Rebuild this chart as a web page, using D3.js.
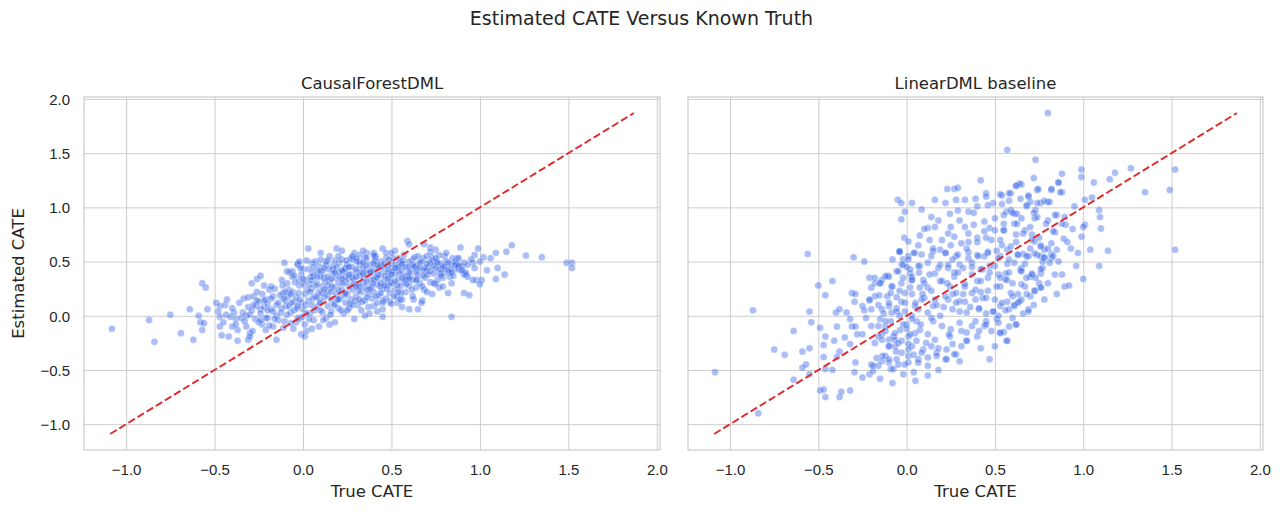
<!DOCTYPE html>
<html>
<head>
<meta charset="utf-8">
<script src="https://cdn.jsdelivr.net/npm/d3@7"></script>
<style>
  html, body { margin: 0; padding: 0; background: #fff; }
  svg { display: block; font-family: "DejaVu Sans", sans-serif; }
  .tick-label { fill: #262626; font-size: 15px; }
  .axis-label { fill: #262626; font-size: 16.5px; }
  .panel-title { fill: #262626; font-size: 16.5px; }
</style>
</head>
<body>
<div id="chart"></div>
<script>
'use strict';

// figure texts
const figureTitle = 'Estimated CATE Versus Known Truth';
const panelTitles = ['CausalForestDML', 'LinearDML baseline'];
const xLabel = 'True CATE';
const yLabel = 'Estimated CATE';

// shared ticks and the y = x reference line
const xTicks = [-1.0, -0.5, 0.0, 0.5, 1.0, 1.5, 2.0];
const yTicks = [-1.0, -0.5, 0.0, 0.5, 1.0, 1.5, 2.0];
const identityLine = [-1.09, 1.87];

// [true CATE, estimated CATE]
const forestPoints = [
  [-1.08,-0.12],[-0.87,-0.04],[-0.84,-0.24],[-0.75,0.01],[-0.69,-0.16],[-0.64,0.06],[-0.62,-0.22],
  [-0.57,0.30],[-0.55,0.26],[-0.59,0.00],[-0.58,-0.06],[-0.57,-0.13],[-0.56,-0.07],[-0.54,0.06],
  [-0.49,0.12],[-0.47,0.09],[-0.44,0.10],[-0.47,-0.01],[-0.47,-0.10],[-0.46,-0.18],[-0.42,-0.19],
  [-0.435,0.01],[-0.41,-0.01],[-0.39,0.03],[-0.38,-0.03],[-0.40,-0.10],[-0.37,-0.13],[-0.37,-0.23],
  [-0.35,-0.02],[-0.32,0.00],[-0.30,0.01],[-0.32,-0.10],[-0.30,-0.16],[-0.31,-0.22],[-0.285,-0.14],
  [-0.335,0.16],[-0.31,0.17],[-0.29,0.30],[-0.26,0.34],[-0.24,0.37],[-0.22,0.28],[-0.265,0.09],
  [-0.24,0.06],[-0.25,0.13],[-0.21,0.15],[-0.19,0.24],[-0.17,0.18],[-0.18,0.06],[-0.15,0.00],
  [-0.20,-0.02],[-0.23,-0.08],[-0.17,-0.10],[-0.15,-0.22],[-0.21,-0.13],[-0.115,0.21],[-0.105,0.49],
  [-0.08,0.24],[-0.095,0.09],[-0.07,0.03],[-0.05,0.13],[-0.04,-0.06],[-0.01,-0.17],[0.01,-0.19],
  [-0.02,-0.03],[0.02,-0.14],[-0.03,0.47],[-0.06,0.36],[-0.02,0.33],
  [0.03,0.62],[0.10,0.58],[0.19,0.62],[0.22,0.60],[0.05,0.49],[0.09,0.46],[0.13,0.50],[0.17,0.46],
  [0.205,0.49],[0.24,0.43],[0.28,0.52],[0.32,0.47],[0.36,0.58],[0.29,0.58],[0.32,0.56],[0.34,0.60],
  [0.40,0.58],[0.45,0.62],[0.52,0.60],[0.59,0.69],[0.60,0.66],[0.685,0.66],[0.72,0.63],[0.75,0.61],
  [0.89,0.63],[0.99,0.62],
  [-0.03,0.48],[0.02,0.51],[0.14,0.51],[0.27,0.53],[0.35,0.54],[0.41,0.53],[0.47,0.53],[0.54,0.53],
  [0.62,0.52],[0.68,0.53],[0.73,0.54],[0.80,0.55],[0.845,0.53],[0.91,0.49],[0.97,0.56],
  [-0.06,0.41],[0.00,0.43],[0.055,0.40],[0.11,0.41],[0.17,0.43],[0.24,0.44],[0.30,0.41],[0.36,0.43],
  [0.43,0.44],[0.49,0.42],[0.56,0.46],[0.64,0.44],[0.695,0.41],[0.77,0.43],[0.83,0.40],[0.88,0.44],
  [0.92,0.38],[0.98,0.33],
  [1.02,0.54],[1.06,0.53],[1.09,0.58],[1.15,0.59],[1.18,0.65],[1.26,0.555],[1.35,0.54],[1.49,0.49],
  [1.52,0.49],[1.52,0.44],[1.10,0.44],[1.09,0.34],[1.14,0.38],[1.04,0.42],[1.01,0.33],[1.00,0.29],
  [0.96,0.33],[0.93,0.36],[0.91,0.38],[0.89,0.42],[0.84,0.30],[0.82,0.21],[0.77,0.26],[0.91,0.21],
  [0.94,0.19],[0.84,-0.01],[1.00,0.50],[0.96,0.49],[0.87,0.53],[0.86,0.50],[0.81,0.58],[0.72,0.59],
  [0.45,-0.01],[0.60,0.06],[0.65,0.06],[0.625,0.15],[0.675,0.14],[0.73,0.20],[0.685,0.24],[0.75,0.29],
  [0.79,0.35],[0.83,0.43],[0.78,0.43],[0.56,0.15],[0.535,0.12],[0.42,0.04],[0.40,0.09],[0.49,0.13],
  [-0.48,0.04],[-0.45,-0.06],[-0.43,0.15],[-0.40,0.07],[-0.38,-0.08],[-0.36,0.12],[-0.34,0.03],
  [-0.33,-0.05],[-0.31,0.08],[-0.30,-0.19],[-0.29,0.05],[-0.28,0.18],[-0.27,-0.03],
  [-0.26,0.14],[-0.25,-0.06],[-0.24,0.02],[-0.23,0.20],[-0.22,0.08],[-0.21,-0.02],[-0.20,0.11],
  [-0.19,-0.09],[-0.18,0.16],[-0.17,0.04],[-0.16,0.25],[-0.15,0.10],[-0.14,-0.04],[-0.13,0.19],
  [-0.12,0.07],[-0.11,-0.11],[-0.10,0.14],[-0.09,0.30],[-0.09,0.01],[-0.08,0.09],[-0.07,-0.07],
  [-0.06,0.22],[-0.05,0.05],[-0.04,0.17],[-0.03,-0.02],[-0.02,0.28],[-0.01,0.12],[-0.01,0.38],
  [0.00,0.06],[0.01,0.20],[0.01,-0.08],[0.02,0.33],[0.03,0.14],[0.03,0.43],[0.04,0.02],[0.05,0.25],
  [0.05,0.10],[0.06,0.37],[0.06,-0.04],[0.07,0.18],[0.07,0.50],[0.08,0.08],[0.08,0.30],[0.09,0.22],
  [0.09,-0.10],[0.10,0.41],[0.10,0.13],[0.11,0.03],[0.11,0.27],[0.12,0.35],[0.12,0.17],[0.13,0.47],
  [0.13,-0.02],[0.14,0.09],[0.14,0.23],[0.15,0.32],[0.15,0.55],[0.16,0.15],[0.16,0.04],[0.17,0.39],
  [0.17,0.26],[0.18,0.11],[0.18,-0.06],[0.19,0.20],[0.19,0.45],[0.20,0.30],[0.20,0.07],
  [0.21,0.36],[0.21,0.16],[0.22,0.24],[0.22,0.52],[0.23,0.02],[0.23,0.41],[0.24,0.12],[0.24,0.31],
  [0.25,0.20],[0.25,0.47],[0.26,0.27],[0.26,0.07],[0.27,0.38],[0.27,0.15],[0.28,0.55],[0.28,0.24],
  [0.29,-0.03],[0.29,0.33],[0.30,0.43],[0.30,0.18],[0.31,0.10],[0.31,0.29],[0.32,0.50],[0.32,0.37],
  [0.33,0.22],[0.33,0.05],[0.34,0.44],[0.34,0.31],[0.35,0.14],[0.35,0.26],[0.36,0.53],[0.36,0.39],
  [0.37,0.20],[0.37,0.08],[0.38,0.34],[0.38,0.47],[0.39,0.27],[0.39,0.16],[0.40,0.42],
  [0.40,0.22],[0.41,0.36],[0.41,0.55],[0.42,0.29],[0.42,0.12],[0.43,0.45],[0.43,0.19],[0.44,0.38],
  [0.44,0.50],[0.45,0.25],[0.45,0.06],[0.46,0.33],[0.46,0.43],[0.47,0.16],[0.47,0.58],[0.48,0.28],
  [0.48,0.40],[0.49,0.21],[0.49,0.35],[0.50,0.48],[0.50,0.11],[0.51,0.30],[0.51,0.53],[0.52,0.39],
  [0.52,0.24],[0.53,0.44],[0.53,0.18],[0.54,0.34],[0.55,0.50],[0.55,0.27],[0.56,0.41],[0.56,0.08],
  [0.57,0.31],[0.57,0.56],[0.58,0.22],[0.58,0.45],[0.59,0.37],[0.60,0.28],
  [0.60,0.50],[0.61,0.42],[0.62,0.33],[0.62,0.18],[0.63,0.54],[0.64,0.26],[0.64,0.46],[0.65,0.38],
  [0.66,0.30],[0.67,0.50],[0.67,0.12],[0.68,0.42],[0.69,0.35],[0.70,0.55],[0.70,0.22],[0.71,0.45],
  [0.72,0.31],[0.73,0.51],[0.74,0.39],[0.75,0.44],[0.76,0.33],[0.77,0.56],[0.78,0.48],[0.79,0.27],
  [0.80,0.40],[0.81,0.50],[0.83,0.36],[0.84,0.47],[0.86,0.43],[0.88,0.53],[0.90,0.46],[0.92,0.40],
  [0.95,0.52],[0.97,0.44],
  [-0.125,0.03],[-0.115,0.28],[-0.105,-0.05],[-0.085,0.18],[-0.075,0.40],[-0.065,0.12],[-0.055,-0.12],
  [-0.045,0.31],[-0.035,0.07],[-0.025,0.21],[-0.015,0.44],[-0.005,-0.01],
  [0.005,0.29],[0.015,0.10],[0.025,0.24],[0.035,-0.03],[0.045,0.36],[0.055,0.16],[0.065,0.05],
  [0.075,0.28],[0.085,0.41],[0.095,0.12],[0.105,0.21],[0.115,-0.04],[0.125,0.32],[0.135,0.19],
  [0.145,0.43],[0.155,0.01],[0.165,0.27],[0.175,0.10],[0.185,0.35],[0.195,0.15],
  [0.205,0.40],[0.215,0.05],[0.225,0.30],[0.235,0.19],[0.245,0.51],[0.255,0.34],[0.265,0.11],
  [0.275,0.45],[0.285,0.29],[0.295,0.14],[0.305,0.50],[0.315,0.23],[0.325,0.40],[0.335,0.13],
  [0.345,0.35],[0.355,0.47],[0.365,0.24],[0.375,0.02],[0.385,0.41],[0.395,0.30],
  [0.405,0.51],[0.415,0.18],[0.425,0.38],[0.435,0.27],[0.445,0.46],[0.455,0.14],[0.465,0.37],
  [0.475,0.25],[0.485,0.52],[0.495,0.30],[0.505,0.41],[0.515,0.18],[0.525,0.47],[0.535,0.28],
  [0.545,0.40],[0.555,0.21],[0.565,0.51],[0.575,0.36],[0.585,0.29],[0.595,0.45],
  [0.605,0.36],[0.615,0.24],[0.63,0.45],[0.645,0.34],[0.66,0.49],[0.675,0.27],[0.69,0.44],
  [0.705,0.38],[0.72,0.49],[0.74,0.30],[0.755,0.50],[0.775,0.39],[0.79,0.46],[0.82,0.42],
  [0.85,0.37],[0.87,0.48],
  [-0.10,0.22],[-0.02,0.15],[0.04,0.29],[0.08,0.17],[0.12,0.24],[0.16,0.34],[0.20,0.24],[0.24,0.36],
  [0.28,0.35],[0.32,0.27],[0.36,0.31],[0.40,0.33],[0.44,0.30],[0.48,0.34],[0.52,0.32],[0.56,0.35],
  [0.60,0.40],[0.64,0.40],[0.05,0.33],[0.14,0.28],[0.22,0.42],[0.30,0.36],[0.38,0.40],[0.46,0.48],
  [0.54,0.45],[0.10,0.36],[0.18,0.40],[0.26,0.45],[0.34,0.49],[0.42,0.47],
  [-0.28,0.10],[-0.26,0.22],[-0.24,-0.04],[-0.22,0.14],[-0.20,0.05],[-0.18,0.27],[-0.16,-0.03],
  [-0.14,0.12],[-0.12,0.33],[-0.11,0.16],[-0.09,0.41],[-0.07,0.20],[-0.05,0.37],[-0.03,0.09],
  [-0.02,0.50],[0.00,0.34],[0.02,0.02],[0.04,0.22],[0.06,0.45],[0.08,0.36],[0.10,0.05],[0.12,0.44],
  [0.14,0.36],[0.16,0.22],[0.18,0.51],[0.20,0.15],[0.22,0.34],[0.24,0.21],[0.26,0.38],[0.28,0.10],
  [0.30,0.27],[0.32,0.15],[0.34,0.39],[0.36,0.17],[0.38,0.25],[0.40,0.48],[0.42,0.35],[0.44,0.21],
  [0.46,0.28],[0.48,0.46],[0.50,0.38],[0.52,0.44],[0.54,0.22],[0.56,0.48],[0.58,0.33],[0.60,0.34],
  [0.62,0.47],[0.64,0.33],[0.66,0.44],[0.68,0.37],[0.70,0.48],[0.72,0.41],[0.74,0.46],[0.76,0.49],
  [0.78,0.37],[0.80,0.45],[0.82,0.49],[0.84,0.40],[0.86,0.47],[0.88,0.46],[0.90,0.42],[0.93,0.47],
  [0.25,0.05],[0.35,0.00],[0.15,-0.08],[0.05,-0.12],[0.45,0.12],[0.55,0.15],[0.30,0.53],[0.20,0.55],
  [0.10,0.52],[0.40,0.56],[0.50,0.58],[0.65,0.55],[0.75,0.53]
];

// [true CATE, estimated CATE]
const linearPoints = [
  [-1.085,-0.52],[-0.84,-0.90],[-0.87,0.05],[-0.75,-0.31],[-0.69,-0.36],[-0.64,-0.14],[-0.59,-0.33],
  [-0.55,-0.30],[-0.59,-0.48],[-0.57,-0.45],[-0.64,-0.59],[-0.55,0.04],[-0.54,-0.06],[-0.56,0.57],
  [-0.55,-0.54],[-0.49,-0.69],[-0.47,-0.68],[-0.46,-0.75],[-0.49,-0.11],[-0.50,0.28],[-0.46,0.19],
  [-0.42,0.32],[-0.47,-0.27],[-0.46,-0.19],[-0.47,-0.38],[-0.46,-0.49],[-0.42,-0.50],[-0.41,-0.23],
  [-0.395,-0.10],[-0.40,0.03],[-0.38,0.06],[-0.34,0.03],[-0.32,-0.03],[-0.31,-0.10],[-0.35,-0.20],
  [-0.32,-0.26],[-0.38,-0.33],[-0.395,-0.38],[-0.37,-0.70],[-0.38,-0.75],[-0.32,-0.69],
  [-0.30,0.54],[-0.24,0.50],[-0.31,0.21],[-0.29,0.20],[-0.295,0.13],[-0.25,0.09],[-0.24,0.05],
  [-0.21,0.14],[-0.20,0.06],[-0.23,-0.02],[-0.25,-0.17],[-0.28,-0.17],[-0.29,-0.10],
  [-0.29,-0.43],[-0.295,-0.52],[-0.25,-0.57],[-0.21,-0.54],[-0.20,-0.45],[-0.19,-0.51],[-0.16,-0.46],
  [-0.17,-0.39],[-0.12,-0.37],[-0.10,-0.43],[-0.09,-0.49],[-0.057,-0.40],[-0.019,-0.54],[0.01,-0.43],
  [-0.21,0.35],[-0.18,0.30],[-0.15,0.30],[-0.20,0.26],[-0.18,0.18],[-0.155,0.19],[-0.08,0.27],
  [-0.107,0.37],[-0.057,0.41],[-0.028,0.47],[-0.04,0.59],[-0.02,0.52],[0.01,0.55],[0.02,0.39],
  [0.03,0.33],[-0.01,0.21],[-0.03,0.13],
  [-0.15,-0.03],[-0.12,-0.10],[-0.09,-0.05],[-0.141,-0.17],[-0.10,-0.22],[-0.075,-0.19],[-0.066,-0.28],
  [-0.028,-0.23],[-0.037,-0.13],[0.00,-0.08],[0.01,-0.19],[0.03,-0.28],[0.047,-0.16],[0.057,-0.05],
  [0.03,0.00],[-0.085,0.03],[-0.10,0.09],[-0.057,0.07],
  [0.23,1.17],[0.27,1.17],[0.29,1.18],[0.42,1.25],
  [-0.05,1.07],[-0.03,1.04],[0.03,1.04],[0.16,1.07],[0.22,1.04],[0.28,1.07],[0.33,1.07],[0.39,1.08],
  [0.45,1.13],[0.45,1.10],[0.49,1.04],[0.54,1.11],[0.59,1.13],[0.62,1.20],[0.65,1.21],[0.69,1.11],
  [0.74,1.16],[0.76,1.04],[0.81,1.05],[0.86,1.23],[0.88,1.14],[0.82,1.16],
  [-0.01,0.96],[-0.03,0.89],[0.085,0.98],[0.14,0.91],[0.18,0.88],[0.245,0.94],[0.29,0.97],[0.35,0.96],
  [0.40,1.01],[0.46,1.02],[0.565,0.96],[0.61,0.94],[0.68,1.01],[0.725,0.90],[0.85,0.93],[0.895,0.91],
  [0.61,0.85],[0.44,0.87],[0.38,0.84],[0.33,0.82],[0.25,0.82],[0.16,0.82],[0.12,0.81],
  [-0.013,0.72],[0.01,0.685],[0.066,0.65],[0.075,0.74],[0.13,0.70],[0.19,0.61],[0.235,0.76],[0.27,0.73],
  [0.31,0.67],[0.35,0.76],[0.40,0.72],[0.44,0.78],[0.47,0.81],[0.50,0.79],[0.55,0.79],[0.54,0.65],
  [0.57,0.61],[0.62,0.75],[0.67,0.79],[0.71,0.75],[0.725,0.685],[0.76,0.65],[0.78,0.61],[0.82,0.53],
  [0.85,0.61],[0.76,0.55],[0.69,0.55],[0.63,0.56],[0.53,0.55],[0.46,0.59],[0.40,0.56],[0.35,0.53],
  [0.28,0.55],[0.22,0.58],[0.14,0.55],[0.047,0.58],[-0.04,0.59],[0.01,0.52],
  [-0.18,0.35],[-0.14,0.33],[-0.10,0.36],[-0.047,0.41],[-0.03,0.30],[0.03,0.36],[0.075,0.46],
  [0.094,0.33],[0.12,0.26],[0.16,0.39],[0.19,0.32],[0.235,0.44],[0.27,0.36],[0.30,0.47],[0.33,0.27],
  [0.37,0.38],[0.40,0.32],[0.43,0.43],[0.46,0.35],[0.50,0.46],[0.53,0.27],[0.56,0.39],[0.57,0.33],
  [0.61,0.49],[0.65,0.44],[0.67,0.27],[0.71,0.39],[0.725,0.23],[0.76,0.26],[0.84,0.38],[0.895,0.27],
  [0.77,0.44],[0.81,0.49],
  [-0.21,0.15],[-0.16,0.10],[-0.11,0.18],[-0.056,0.04],[-0.01,0.12],[0.03,0.20],[0.066,0.06],
  [0.10,0.165],[0.15,0.09],[0.19,0.00],[0.235,0.15],[0.26,0.20],[0.30,0.04],[0.33,0.13],[0.37,0.21],
  [0.41,0.06],[0.43,0.165],[0.49,0.04],[0.53,0.09],[0.57,0.13],[0.61,0.09],[0.65,0.15],[0.69,0.06],
  [0.51,-0.03],[0.62,-0.08],[0.565,-0.23],[0.53,-0.16],
  [-0.20,-0.095],[-0.16,-0.19],[-0.12,-0.14],[-0.10,-0.28],[-0.066,-0.22],[-0.028,-0.34],[0.01,-0.26],
  [0.02,-0.17],[0.066,-0.40],[0.094,-0.31],[0.12,-0.46],[0.16,-0.22],[0.17,-0.34],[0.22,-0.40],
  [0.245,-0.19],[0.26,-0.26],[0.28,-0.355],[0.31,-0.14],[0.34,-0.23],[0.37,-0.095],[0.40,-0.19],
  [0.44,-0.095],[0.48,-0.14],[-0.19,-0.46],[-0.14,-0.42],[-0.075,-0.49],[-0.01,-0.45],[0.04,-0.52],
  [-0.15,-0.58],[-0.08,-0.62],[0.05,-0.60],[0.12,-0.55],[0.18,-0.50],[0.30,-0.42],[0.42,-0.30],
  [0.50,-0.28],[0.47,-0.40],[0.55,-0.15],
  [0.45,-0.05],[0.52,0.00],[0.60,-0.02],[0.66,0.02],[0.72,0.10],[0.78,0.15],[0.85,0.20],[0.58,-0.10],
  [0.63,0.20],[0.70,0.18],[0.75,0.30],[0.80,0.30],
  [0.80,1.87],[0.57,1.53],[0.73,1.44],[0.88,1.31],[0.99,1.35],[0.99,1.28],[1.06,1.23],[1.15,1.26],
  [1.18,1.32],[1.27,1.36],[1.52,1.35],[1.35,1.14],[1.49,1.16],
  [0.72,1.27],[0.86,1.23],[0.82,1.17],[0.87,1.14],[0.745,1.17],[0.64,1.22],[0.62,1.20],[0.53,1.12],
  [0.58,1.13],[0.645,1.08],[0.69,1.10],[0.58,1.06],[0.54,1.03],
  [0.80,1.05],[0.78,1.06],[0.74,1.04],[0.73,0.975],[0.68,1.02],[0.95,1.01],[1.01,1.07],[1.05,1.09],
  [1.09,0.975],[1.095,0.91],[1.01,0.84],[1.00,0.82],[1.10,0.805],[0.99,0.73],[0.89,0.71],[0.93,0.62],
  [1.04,0.61],[1.14,0.60],[1.09,0.46],[0.96,0.46],[0.88,0.38],[0.92,0.28],[1.00,0.34],[1.52,0.61],
  [0.84,0.93],[0.90,0.84],[0.84,0.77],[0.80,0.88],[0.74,0.91],[0.625,0.94],[0.59,0.975],[0.55,0.93],
  [0.70,0.82],[0.66,0.76],[0.71,0.70],[0.76,0.64],[0.82,0.57],[0.82,0.67],[0.78,0.54],[0.74,0.56],
  [0.625,0.85],[0.55,0.79],[0.53,0.70],[0.59,0.64],[0.66,0.57],[0.57,0.48],[0.645,0.42],[0.70,0.36],
  [0.76,0.39],
  [-0.04,0.595],[0.04,0.58],[0.085,0.565],[0.15,0.595],[0.22,0.58],[0.29,0.565],[0.35,0.585],
  [0.405,0.55],[0.46,0.58],[0.52,0.53],[0.63,0.565],[0.68,0.55],[0.725,0.575],[0.78,0.535],[0.83,0.55],
  [-0.12,0.365],[-0.02,0.47],[0.02,0.43],[0.066,0.46],[0.12,0.49],[0.18,0.44],[0.235,0.47],[0.27,0.40],
  [0.32,0.44],[0.37,0.49],[0.42,0.43],[0.47,0.46],[0.52,0.38],[0.58,0.40],[0.65,0.41],[0.71,0.38],
  [0.76,0.43],
  [-0.15,0.30],[-0.085,0.27],[-0.04,0.23],[0.03,0.33],[0.075,0.26],[0.10,0.30],[0.14,0.23],[0.20,0.32],
  [0.245,0.27],[0.28,0.21],[0.33,0.29],[0.39,0.24],[0.42,0.32],[0.46,0.23],[0.51,0.27],[0.56,0.335],
  [0.59,0.21],[0.65,0.29],[0.725,0.23],[0.76,0.26],[0.678,0.35],
  [-0.14,0.06],[-0.10,0.12],[-0.056,0.17],[-0.01,0.04],[0.047,0.09],[0.085,0.15],[0.12,0.03],
  [0.17,0.10],[0.22,0.18],[0.26,0.06],[0.30,0.135],[0.34,0.03],[0.39,0.15],[0.41,0.07],[0.45,0.165],
  [0.49,0.04],[0.54,0.12],[0.58,0.06],[0.60,0.18],[0.64,0.135],[0.69,0.04],[0.61,0.10],
  [-0.16,-0.095],[-0.12,-0.05],[-0.066,-0.16],[-0.02,-0.08],[0.03,-0.03],[0.075,-0.13],[0.12,-0.17],
  [0.15,-0.05],[0.20,-0.095],[0.25,-0.125],[0.30,-0.065],[0.34,-0.155],[0.41,-0.14],[0.45,-0.08],
  [0.52,-0.065],[0.53,-0.155],[0.62,-0.08],
  [-0.14,-0.22],[-0.10,-0.28],[-0.047,-0.25],[0.01,-0.31],[0.056,-0.23],[0.085,-0.34],[0.14,-0.28],
  [0.17,-0.37],[0.226,-0.31],[0.27,-0.355],[0.226,-0.40],[0.34,-0.23],[0.57,-0.23],[-0.10,-0.40],
  [-0.047,-0.45],[0.01,-0.37],[0.066,-0.43],[0.12,-0.385],[-0.137,-0.37],
  [-0.18,-0.25],[-0.13,0.02],[-0.09,0.21],[-0.06,-0.33],[-0.04,0.00],[-0.02,0.35],[0.00,-0.12],
  [0.02,0.26],[0.04,-0.36],[0.05,0.12],[0.07,0.40],[0.08,-0.08],[0.09,0.20],[0.11,-0.25],[0.13,0.38],
  [0.14,-0.02],[0.16,0.15],[0.18,-0.30],[0.19,0.47],[0.21,0.08],[0.23,0.30],[0.24,-0.17],[0.26,0.52],
  [0.28,0.12],[0.29,0.40],[0.31,-0.28],[0.32,0.20],[0.34,0.62],[0.36,0.08],[0.37,0.45],[0.39,-0.05],
  [0.40,0.68],[0.42,0.22],[0.44,0.55],[0.45,0.02],[0.47,0.40],[0.48,0.70],[0.50,0.15],[0.51,0.60],
  [0.53,0.35],[0.55,0.85],[0.56,0.05],[0.58,0.52],[0.60,0.30],[0.62,0.68],[0.63,0.12],[0.65,0.90],
  [0.67,0.48],[0.68,0.20],[0.70,0.62],[0.72,0.95],[0.73,0.35],[0.75,0.72],[0.77,0.50],[0.79,0.85],
  [0.80,0.62],[0.83,0.78],[0.86,0.50],[0.88,0.85],[0.91,0.68],[0.94,0.80],[0.97,0.58],[0.20,0.70],
  [0.30,0.88],[0.10,0.80],[0.00,0.45],[-0.08,0.52],[0.15,0.62],[0.25,0.65],[0.35,0.68],[0.45,0.72],
  [0.60,0.95],[0.70,1.05],[0.50,0.90],[0.38,0.95]
];

const width = 1283, height = 512;
const panels = [
  { left: 84, right: 660, title: panelTitles[0], points: forestPoints, showY: true },
  { left: 688, right: 1263, title: panelTitles[1], points: linearPoints, showY: false }
];
const plotTop = 97, plotBottom = 450;
const domain = [-1.238, 2.018];

const svg = d3.select('#chart').append('svg')
    .attr('width', width)
    .attr('height', height);

svg.append('text')
    .attr('x', 641.5)
    .attr('y', 25)
    .attr('text-anchor', 'middle')
    .style('font-size', '19px')
    .style('fill', '#262626')
    .text(figureTitle);

const fmt = d3.format('.1f');

panels.forEach(p => {
  const x = d3.scaleLinear().domain(domain).range([p.left, p.right]);
  const y = d3.scaleLinear().domain(domain).range([plotBottom, plotTop]);

  const g = svg.append('g');

  // grid via axes with full-length ticks
  g.append('g')
      .attr('transform', `translate(0, ${plotBottom})`)
      .call(d3.axisBottom(x).tickValues(xTicks).tickSize(-(plotBottom - plotTop)).tickFormat(fmt))
      .call(a => a.select('.domain').remove())
      .call(a => a.selectAll('line').attr('stroke', '#cccccc').attr('stroke-width', 1))
      .call(a => a.selectAll('text').attr('class', 'tick-label').attr('dy', null).attr('y', 25));

  g.append('g')
      .attr('transform', `translate(${p.left}, 0)`)
      .call(d3.axisLeft(y).tickValues(yTicks).tickSize(-(p.right - p.left)).tickFormat(fmt))
      .call(a => a.select('.domain').remove())
      .call(a => a.selectAll('line').attr('stroke', '#cccccc').attr('stroke-width', 1))
      .call(a => a.selectAll('text')
          .attr('class', 'tick-label')
          .attr('x', -14)
          .attr('dy', '0.36em')
          .style('display', p.showY ? null : 'none'));

  // frame
  g.append('rect')
      .attr('x', p.left)
      .attr('y', plotTop)
      .attr('width', p.right - p.left)
      .attr('height', plotBottom - plotTop)
      .attr('fill', 'none')
      .attr('stroke', '#cccccc')
      .attr('stroke-width', 1.25);

  g.append('g')
    .selectAll('circle')
    .data(p.points)
    .join('circle')
      .attr('cx', d => x(d[0]))
      .attr('cy', d => y(d[1]))
      .attr('r', 3.5)
      .attr('fill', '#2b5de6')
      .attr('fill-opacity', 0.4)
      .attr('stroke', '#ffffff')
      .attr('stroke-opacity', 0.5)
      .attr('stroke-width', 0.6);

  g.append('line')
      .attr('x1', x(identityLine[0]))
      .attr('y1', y(identityLine[0]))
      .attr('x2', x(identityLine[1]))
      .attr('y2', y(identityLine[1]))
      .attr('stroke', '#e0282a')
      .attr('stroke-width', 1.9)
      .attr('stroke-dasharray', '7.5,3.2');

  g.append('text')
      .attr('class', 'panel-title')
      .attr('x', (p.left + p.right) / 2)
      .attr('y', 89)
      .attr('text-anchor', 'middle')
      .text(p.title);

  g.append('text')
      .attr('class', 'axis-label')
      .attr('x', (p.left + p.right) / 2)
      .attr('y', 497)
      .attr('text-anchor', 'middle')
      .text(xLabel);

  if (p.showY) {
    g.append('text')
        .attr('class', 'axis-label')
        .attr('transform', `translate(24, ${(plotTop + plotBottom) / 2}) rotate(-90)`)
        .attr('text-anchor', 'middle')
        .text(yLabel);
  }
});
</script>
</body>
</html>
